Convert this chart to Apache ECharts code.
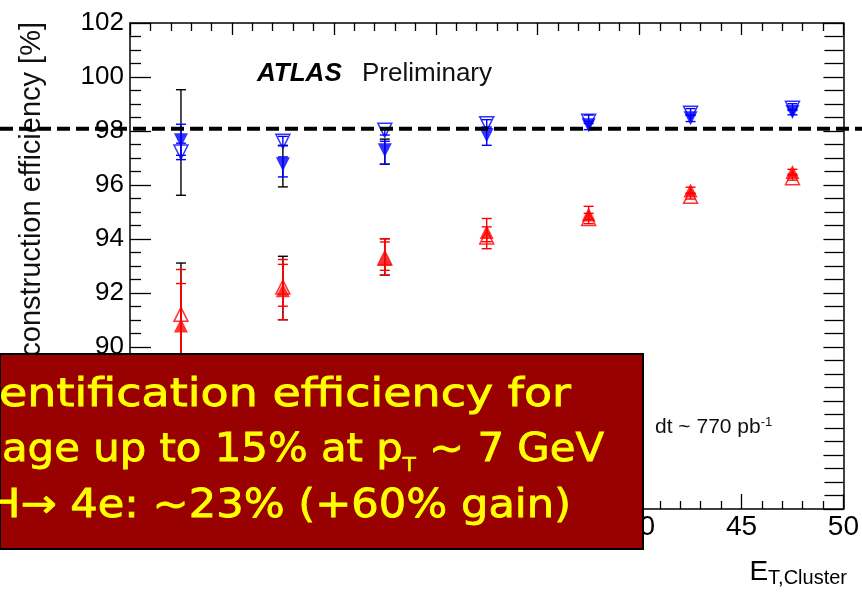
<!DOCTYPE html>
<html>
<head>
<meta charset="utf-8">
<title>Reconstruction efficiency vs E_T</title>
<script src="https://cdn.jsdelivr.net/npm/echarts@6/dist/echarts.min.js"></script>
<style>
  html, body { margin: 0; padding: 0; background: #fff; }
  #main { width: 862px; height: 593px; }
</style>
</head>
<body>
<div id="main"></div>
<script>
// bin centres in E_T (GeV)
var xBins = [17.5, 22.5, 27.5, 32.5, 37.5, 42.5, 47.5];

// blue: reconstruction efficiency (filled / open markers)
var blueFilled   = [97.66, 96.77, 97.29, 97.84, 98.21, 98.47, 98.70];
var blueFilledLo = [97.10, 96.30, 96.77, 97.47, 98.05, 98.35, 98.60];
var blueFilledHi = [98.25, 97.04, 97.62, 98.10, 98.36, 98.58, 98.80];
var blueOpen     = [97.22, 97.62, 98.03, 98.27, 98.36, 98.66, 98.84];
var blueOpenLo   = [96.94, 97.45, 97.85, 98.15, 98.28, 98.58, 98.76];
var blueOpenHi   = [97.55, 97.80, 98.12, 98.42, 98.59, 98.83, 99.01];
var blueSystLo   = [95.62, 95.93, 96.77, null, null, null, null];
var blueSystHi   = [99.53, 97.47, 97.70, null, null, null, null];

// red: efficiency after track quality cuts
var redFilled    = [90.80, 92.10, 93.27, 94.26, 94.91, 95.80, 96.48];
var redFilledLo  = [88.80, 91.51, 92.84, 93.90, 94.72, 95.70, 96.40];
var redFilledHi  = [92.35, 93.06, 93.89, 94.76, 95.21, 95.92, 96.58];
var redOpen      = [91.21, 92.22, 93.30, 94.07, 94.76, 95.58, 96.27];
var redOpenLo    = [89.40, 91.01, 92.66, 93.64, 94.57, 95.48, 96.18];
var redOpenHi    = [92.87, 93.24, 94.01, 94.45, 94.95, 95.68, 96.36];
var redSystLo    = [89.00, 91.01, 92.66, null, null, null, null];
var redSystHi    = [93.11, 93.36, 94.01, null, null, null, null];

var refLevel = 98.08;

var boxLines = ['entification efficiency for', 'age up to 15% at p{t|T} ~ 7 GeV', 'H\u2192 4e: ~23% (+60% gain)'];
var boxLineStart = [-1, 2, -12];
var boxLineEnds = [571, 604, 571];
var boxBaseline = [407, 462, 518];

var font = 'Liberation Sans';
var boxFont = 'DejaVu Sans';
var boxSize = 39;
var subSize = 20;

function pts(ys) {
  return xBins.map(function (x, i) { return [x, ys[i]]; });
}

function errSeries(lo, hi, color) {
  var data = [];
  xBins.forEach(function (x, i) {
    if (lo[i] != null) data.push([x, lo[i], hi[i]]);
  });
  return {
    type: 'custom',
    silent: true,
    z: 1,
    data: data,
    encode: { x: 0, y: [1, 2] },
    renderItem: function (params, api) {
      var x = api.value(0);
      var a = api.coord([x, api.value(1)]);
      var b = api.coord([x, api.value(2)]);
      var st = { stroke: color, lineWidth: 1.4 };
      return {
        type: 'group',
        children: [
          { type: 'line', shape: { x1: a[0], y1: a[1], x2: b[0], y2: b[1] }, style: st },
          { type: 'line', shape: { x1: a[0] - 5, y1: a[1], x2: a[0] + 5, y2: a[1] }, style: st },
          { type: 'line', shape: { x1: b[0] - 5, y1: b[1], x2: b[0] + 5, y2: b[1] }, style: st }
        ]
      };
    }
  };
}

function markSeries(ys, color, filled, down, z) {
  return {
    type: 'scatter',
    z: z,
    data: pts(ys),
    symbol: 'triangle',
    symbolSize: [14, 14],
    symbolRotate: down ? 180 : 0,
    itemStyle: filled ? { color: color } : { color: 'rgba(0,0,0,0)', borderColor: color, borderWidth: 1.5 },
    emphasis: { disabled: true }
  };
}

var chartDom = document.getElementById('main');
var myChart = echarts.init(chartDom);

var axisLineStyle = { color: '#000', width: 1.5 };
var tickStyle = { color: '#000', width: 1.3 };

// measure the overlay lines so each one spans the box like on the slide
var ctx = document.createElement('canvas').getContext('2d');
function lineWidth(line) {
  var parts = line.split('{t|T}');
  var w = 0;
  ctx.font = boxSize + 'px "' + boxFont + '"';
  parts.forEach(function (p) { w += ctx.measureText(p).width; });
  ctx.font = subSize + 'px "' + boxFont + '"';
  w += (parts.length - 1) * ctx.measureText('T').width;
  return w;
}

// graphic text rich styles take zrender keys (fill / stroke)
var boxTextRich = {
  n: { fontSize: boxSize, fontFamily: boxFont, fill: '#ffff00', stroke: '#ffff00', lineWidth: 0.8,
       lineHeight: 44, verticalAlign: 'top' },
  t: { fontSize: subSize, fontFamily: boxFont, fill: '#ffff00', stroke: '#ffff00', lineWidth: 0.5,
       lineHeight: 20, verticalAlign: 'bottom', padding: [30, 0, 0, 0] }
};

var graphics = [
  {
    type: 'text', id: 'yname', x: 32, y: 22, rotation: Math.PI / 2, z: 50,
    style: { text: 'Reconstruction efficiency [%]', fontSize: 29, fontFamily: font, fill: '#111', align: 'right', verticalAlign: 'middle' }
  },
  {
    type: 'text', id: 'atlas', x: 257, y: 74, z: 50,
    style: { text: 'ATLAS', fontSize: 26, fontWeight: 'bold', fontStyle: 'italic', fontFamily: font, fill: '#000', align: 'left', verticalAlign: 'middle' }
  },
  {
    type: 'text', id: 'prelim', x: 362, y: 74, z: 50,
    style: { text: 'Preliminary', fontSize: 26, fontFamily: font, fill: '#111', align: 'left', verticalAlign: 'middle' }
  },
  {
    type: 'text', id: 'lumi', x: 655, y: 416, z: 50,
    style: {
      text: '{n|dt ~ 770 pb}{s|-1}', align: 'left', verticalAlign: 'top',
      rich: {
        n: { fontSize: 21, fontFamily: font, fill: '#111', lineHeight: 22, verticalAlign: 'bottom', padding: [4, 0, 0, 0] },
        s: { fontSize: 13, fontFamily: font, fill: '#111', lineHeight: 14, verticalAlign: 'top' }
      }
    }
  },
  {
    type: 'text', id: 'xname', x: 847, y: 558, z: 50,
    style: {
      text: '{e|E}{s|T,Cluster}', align: 'right', verticalAlign: 'top',
      rich: {
        e: { fontSize: 28, fontFamily: font, fill: '#000', lineHeight: 30, verticalAlign: 'top' },
        s: { fontSize: 20, fontFamily: font, fill: '#000', lineHeight: 20, verticalAlign: 'bottom', padding: [12, 0, 0, 0] }
      }
    }
  },
  {
    type: 'rect', id: 'box', z: 110,
    shape: { x: 0, y: 354, width: 643, height: 195 },
    style: { fill: '#990000', stroke: '#000', lineWidth: 2 }
  }
];

boxLines.forEach(function (line, i) {
  var txt = line.split('{t|T}').map(function (s) { return '{n|' + s + '}'; }).join('{t|T}');
  var sx = (boxLineEnds[i] - boxLineStart[i]) / lineWidth(line);
  graphics.push({
    type: 'text', id: 'boxline' + i, z: 120,
    x: boxLineEnds[i], y: boxBaseline[i] - 30.5, scaleX: sx,
    style: { text: txt, align: 'right', verticalAlign: 'top', rich: boxTextRich }
  });
});

var option = {
  animation: false,
  backgroundColor: '#fff',
  grid: { left: 130, right: 15, top: 23, bottom: 84 },
  xAxis: [
    {
      type: 'value', min: 15, max: 50, interval: 5, position: 'bottom',
      axisLine: { show: true, onZero: false, lineStyle: axisLineStyle },
      axisTick: { show: true, inside: true, length: 15, lineStyle: tickStyle },
      minorTick: { show: true, splitNumber: 5, length: 8, lineStyle: tickStyle },
      axisLabel: { fontSize: 28, color: '#000', fontFamily: font, margin: 4 },
      splitLine: { show: false }
    },
    {
      type: 'value', min: 15, max: 50, interval: 5, position: 'top',
      axisLine: { show: true, onZero: false, lineStyle: axisLineStyle },
      axisTick: { show: true, inside: true, length: 12, lineStyle: tickStyle },
      minorTick: { show: true, splitNumber: 5, length: 8, lineStyle: tickStyle },
      axisLabel: { show: false },
      splitLine: { show: false }
    }
  ],
  yAxis: [
    {
      type: 'value', min: 84, max: 102, interval: 2, position: 'left',
      axisLine: { show: true, onZero: false, lineStyle: axisLineStyle },
      axisTick: { show: true, inside: true, length: 21, lineStyle: tickStyle },
      minorTick: { show: true, splitNumber: 4, length: 11, lineStyle: tickStyle },
      axisLabel: { fontSize: 26, color: '#000', fontFamily: font, margin: 6 },
      splitLine: { show: false }
    },
    {
      type: 'value', min: 84, max: 102, interval: 2, position: 'right',
      axisLine: { show: true, onZero: false, lineStyle: axisLineStyle },
      axisTick: { show: true, inside: true, length: 20, lineStyle: tickStyle },
      minorTick: { show: true, splitNumber: 4, length: 19, lineStyle: tickStyle },
      axisLabel: { show: false },
      splitLine: { show: false }
    }
  ],
  series: [
    errSeries(blueSystLo, blueSystHi, '#000'),
    errSeries(redSystLo, redSystHi, '#000'),
    errSeries(blueOpenLo, blueOpenHi, '#0000ff'),
    errSeries(blueFilledLo, blueFilledHi, '#0000ff'),
    errSeries(redOpenLo, redOpenHi, '#ff0000'),
    errSeries(redFilledLo, redFilledHi, '#ff0000'),
    markSeries(blueOpen, '#0000ff', false, true, 3),
    markSeries(blueFilled, '#0000ff', true, true, 4),
    markSeries(redOpen, '#ff0000', false, false, 3),
    markSeries(redFilled, '#ff0000', true, false, 4)
  ],
  graphic: graphics
};

option && myChart.setOption(option);

// dashed 98% reference line across the whole slide
var refY = myChart.convertToPixel({ yAxisIndex: 0 }, refLevel);
myChart.setOption({
  graphic: [{
    type: 'line', id: 'refline', z: 100,
    shape: { x1: 0, y1: refY, x2: 862, y2: refY },
    style: { stroke: '#000', lineWidth: 4, lineDash: [13, 6] }
  }]
});
</script>
</body>
</html>
